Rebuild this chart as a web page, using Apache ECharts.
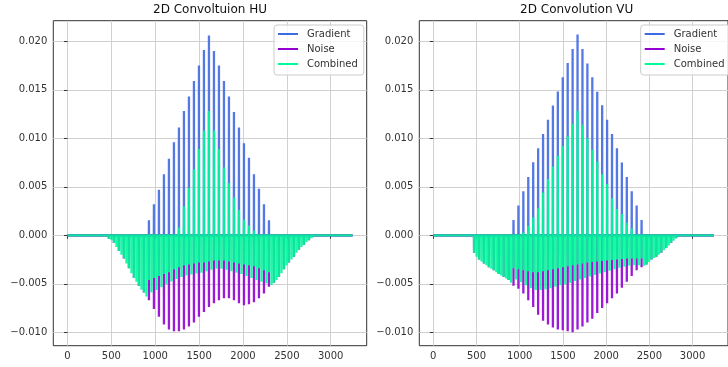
<!DOCTYPE html>
<html>
<head>
<meta charset="utf-8">
<script src="https://cdn.jsdelivr.net/npm/echarts@6/dist/echarts.min.js"></script>
<style>
  html, body { margin: 0; padding: 0; background: #fff; }
  #chart { width: 728px; height: 367px; }
</style>
</head>
<body>
<div id="chart"></div>
<script>
// samples 0..3248, one spike row every 57 samples
const PERIOD = 57;
const OFFSET = 16;
const LAST_X = 3248;
const xTicks = [0, 500, 1000, 1500, 2000, 2500, 3000];
const yTicks = [-0.01, -0.005, 0, 0.005, 0.01, 0.015, 0.02];

// ---- HU (left) ----
// gradient peaks, rows k = 16..40
const gradStartHU = 16;
const gradHU = [0.00155, 0.0032, 0.0047, 0.0063, 0.0079, 0.0096, 0.0111, 0.0128, 0.0143, 0.0159, 0.0175, 0.0191, 0.0206,
  0.0190, 0.0175, 0.0159, 0.0143, 0.0127, 0.0111, 0.0095, 0.0080, 0.0063, 0.0048, 0.0032, 0.00155];
// noise, rows k = 8..48
const noiseStartHU = 8;
const noiseHU = [-0.00035, -0.0008, -0.0016, -0.0024, -0.0034, -0.0044, -0.0052, -0.0059, -0.0067, -0.0076, -0.0084,
  -0.0092, -0.0097, -0.0099, -0.0099, -0.0097, -0.0094, -0.009, -0.0084, -0.0079, -0.0074, -0.007, -0.0067, -0.0065, -0.0065,
  -0.0067, -0.007, -0.0072, -0.0071, -0.0069, -0.0065, -0.006, -0.0053, -0.0049, -0.0043, -0.0035, -0.0028, -0.0022, -0.0015,
  -0.001, -0.0005];
// combined, lowest value per half row h = 16..97
const combStartHU = 16;
const combLowHU = [-0.00035, -0.0005, -0.0008, -0.0012, -0.0016, -0.002, -0.0024, -0.0029, -0.0034, -0.0039, -0.0044, -0.0048,
  -0.0052, -0.0056, -0.0059, -0.0063,
  -0.0046, -0.0059, -0.0044, -0.00565, -0.0042, -0.00535, -0.004, -0.00505, -0.0038, -0.00475, -0.0035, -0.0045, -0.0033, -0.0043,
  -0.0031, -0.00415, -0.003, -0.00405, -0.0029, -0.00395, -0.0028, -0.00385, -0.0028, -0.0037, -0.0027, -0.00355, -0.0026, -0.00345,
  -0.0026, -0.00345, -0.0026, -0.00355, -0.0027, -0.0037, -0.0028, -0.00385, -0.0029, -0.004, -0.003, -0.0042, -0.0031, -0.0044,
  -0.0032, -0.0046, -0.0034, -0.0048, -0.0036, -0.00495, -0.0038,
  -0.0051, -0.0049, -0.0046, -0.0043, -0.0039, -0.0035, -0.0031, -0.0028, -0.0025, -0.0022, -0.0018, -0.0015, -0.0012, -0.001,
  -0.0007, -0.0005, -0.0003];
// combined, highest value on gradient rows k = 16..40
const combTopHU = [0, 0, 0, 0, 0, 0, 0.0008, 0.003, 0.0049, 0.0068, 0.0089, 0.0108, 0.0128,
  0.0108, 0.0089, 0.007, 0.0054, 0.0039, 0.0026, 0.0016, 0.001, 0.0005, 0, 0, 0];

// ---- VU (right) ----
const gradStartVU = 16;
const gradVU = [0.00158, 0.00306, 0.00454, 0.006, 0.00753, 0.00897, 0.01045, 0.0119, 0.01337, 0.01481, 0.0163, 0.01777, 0.0192,
  0.0207, 0.0192, 0.0177, 0.0163, 0.0148, 0.0134, 0.0119, 0.01045, 0.00897, 0.0075, 0.006, 0.00454, 0.00306, 0.00158];
// rows k = 8..49
const noiseStartVU = 8;
const noiseVU = [-0.0018, -0.0025, -0.0029, -0.0033, -0.0036, -0.004, -0.0043, -0.0046, -0.0052, -0.0055, -0.006, -0.0067,
  -0.0074, -0.0082, -0.0088, -0.0092, -0.0095, -0.0097, -0.0098, -0.0099, -0.01, -0.0097, -0.0094, -0.009, -0.0086, -0.008,
  -0.0075, -0.007, -0.0065, -0.006, -0.0054, -0.0048, -0.0042, -0.0036, -0.0033, -0.003, -0.0025, -0.0022, -0.0018, -0.0013,
  -0.0008, -0.0003];
// half rows h = 16..99
const combStartVU = 16;
const combLowVU = [-0.0018, -0.0022, -0.0025, -0.0027, -0.0029, -0.0031, -0.0033, -0.00345, -0.0036, -0.0038, -0.004, -0.00415,
  -0.0043, -0.00445, -0.0046, -0.0049,
  -0.0034, -0.00455, -0.0035, -0.00485, -0.0036, -0.00515, -0.0037, -0.00545, -0.0038, -0.00565, -0.0038, -0.00565, -0.0037, -0.00555,
  -0.0036, -0.00545, -0.0035, -0.0053, -0.0034, -0.00515, -0.0033, -0.00505, -0.0032, -0.0049, -0.0031, -0.0047, -0.003, -0.00455,
  -0.0029, -0.0044, -0.0028, -0.00425, -0.00275, -0.0041, -0.0027, -0.00395, -0.00265, -0.0038, -0.0026, -0.00365, -0.00255, -0.0035,
  -0.0025, -0.00335, -0.00245, -0.00325, -0.0024, -0.00315, -0.0024, -0.0031, -0.0024, -0.0031, -0.0024,
  -0.00315, -0.003, -0.00275, -0.0025, -0.00235, -0.0022, -0.002, -0.0018, -0.00155, -0.0013, -0.00105, -0.0008, -0.00055,
  -0.0003, -0.00015];
const combTopVU = [0, 0, 0.0003, 0.00096, 0.00186, 0.0028, 0.0044, 0.0058, 0.0071, 0.0082, 0.0092, 0.0102, 0.0115, 0.01285,
  0.0114, 0.01, 0.0088, 0.0076, 0.0063, 0.0053, 0.0038, 0.0027, 0.0022, 0.0013, 0.0007, 0.0002, 0];

const colors = ['#4169e1', '#9400d3', '#00fa9a'];

function spikeX(h) {
  return Math.round(OFFSET + h * PERIOD / 2);
}

// a flat line at 0 with one thin spike per value
function spikeLine(values, startH, step) {
  let pts = [[0, 0]];
  for (let i = 0; i < values.length; i++) {
    let x = spikeX(startH + i * step);
    pts.push([x - 1, 0], [x, values[i]], [x + 1, 0]);
  }
  pts.push([LAST_X, 0]);
  return pts;
}

// combined: on gradient rows the stroke runs from top down to low
function combLine(lows, tops, combStart, gradStart) {
  let pts = [[0, 0]];
  for (let i = 0; i < lows.length; i++) {
    let h = combStart + i;
    let x = spikeX(h);
    let k = h / 2 - gradStart;
    if (h % 2 === 0 && k >= 0 && k < tops.length && tops[k] > 0) {
      pts.push([x - 1, 0], [x, tops[k]], [x + 1, lows[i]], [x + 2, 0]);
    } else {
      pts.push([x - 1, 0], [x, lows[i]], [x + 1, 0]);
    }
  }
  pts.push([LAST_X, 0]);
  return pts;
}

const font = 'DejaVu Sans';
const grids = [
  { left: 53.3, top: 20.7, width: 313.4, height: 325 },
  { left: 419.3, top: 20.7, width: 314.7, height: 325 }
];

function xAxis(i) {
  return {
    type: 'value', gridIndex: i, min: -162, max: 3410,
    axisLine: { show: false },
    axisTick: { show: true, length: 3.5, customValues: xTicks, lineStyle: { color: '#333' } },
    axisLabel: { customValues: xTicks, fontSize: 10, fontFamily: font, color: '#333', margin: 6,
      formatter: v => String(v) },
    splitLine: { show: true, lineStyle: { color: '#d0d0d0', width: 1 } }
  };
}
function yAxis(i) {
  return {
    type: 'value', gridIndex: i, min: -0.01138, max: 0.02212,
    axisLine: { show: false },
    axisTick: { show: true, length: 3.5, customValues: yTicks, lineStyle: { color: '#333' } },
    axisLabel: {
      customValues: yTicks, fontSize: 10, fontFamily: font, color: '#333', margin: 6,
      formatter: v => v.toFixed(3).replace('-', '\u2212')
    },
    splitLine: { show: true, lineStyle: { color: '#d0d0d0', width: 1 } }
  };
}
function legend(left) {
  return {
    orient: 'vertical', left: left, top: 25,
    data: ['Gradient', 'Noise', 'Combined'],
    icon: 'rect', itemWidth: 20, itemHeight: 2, itemGap: 1,
    padding: [2, 6, 4, 4],
    backgroundColor: 'rgba(255,255,255,0.8)', borderColor: '#ccc', borderWidth: 1, borderRadius: 3,
    textStyle: { fontSize: 10, fontFamily: font, color: '#333', lineHeight: 14, padding: [0, 0, 0, 4] }
  };
}
function series(name, data, idx, color) {
  return {
    name: name, type: 'line', data: data, xAxisIndex: idx, yAxisIndex: idx,
    showSymbol: false, symbol: 'none', silent: true, animation: false,
    color: color,
    lineStyle: { width: 2.3, color: color, opacity: 0.9 }
  };
}

let myChart = echarts.init(document.getElementById('chart'));
let option = {
  animation: false,
  title: [
    { text: '2D Convoltuion HU', left: 210, top: 4, padding: 0, textAlign: 'center',
      textStyle: { fontSize: 12, fontWeight: 'normal', fontFamily: font, color: '#111' } },
    { text: '2D Convolution VU', left: 576.7, top: 4, padding: 0, textAlign: 'center',
      textStyle: { fontSize: 12, fontWeight: 'normal', fontFamily: font, color: '#111' } }
  ],
  legend: [legend(274), legend(640.7)],
  grid: grids.map(g => Object.assign({ show: true, borderColor: '#333', borderWidth: 1, backgroundColor: 'transparent' }, g)),
  xAxis: [xAxis(0), xAxis(1)],
  yAxis: [yAxis(0), yAxis(1)],
  series: [
    series('Gradient', spikeLine(gradHU, gradStartHU * 2, 2), 0, colors[0]),
    series('Noise', spikeLine(noiseHU, noiseStartHU * 2, 2), 0, colors[1]),
    series('Combined', combLine(combLowHU, combTopHU, combStartHU, gradStartHU), 0, colors[2]),
    series('Gradient', spikeLine(gradVU, gradStartVU * 2, 2), 1, colors[0]),
    series('Noise', spikeLine(noiseVU, noiseStartVU * 2, 2), 1, colors[1]),
    series('Combined', combLine(combLowVU, combTopVU, combStartVU, gradStartVU), 1, colors[2])
  ]
};
myChart.setOption(option);
</script>
</body>
</html>
